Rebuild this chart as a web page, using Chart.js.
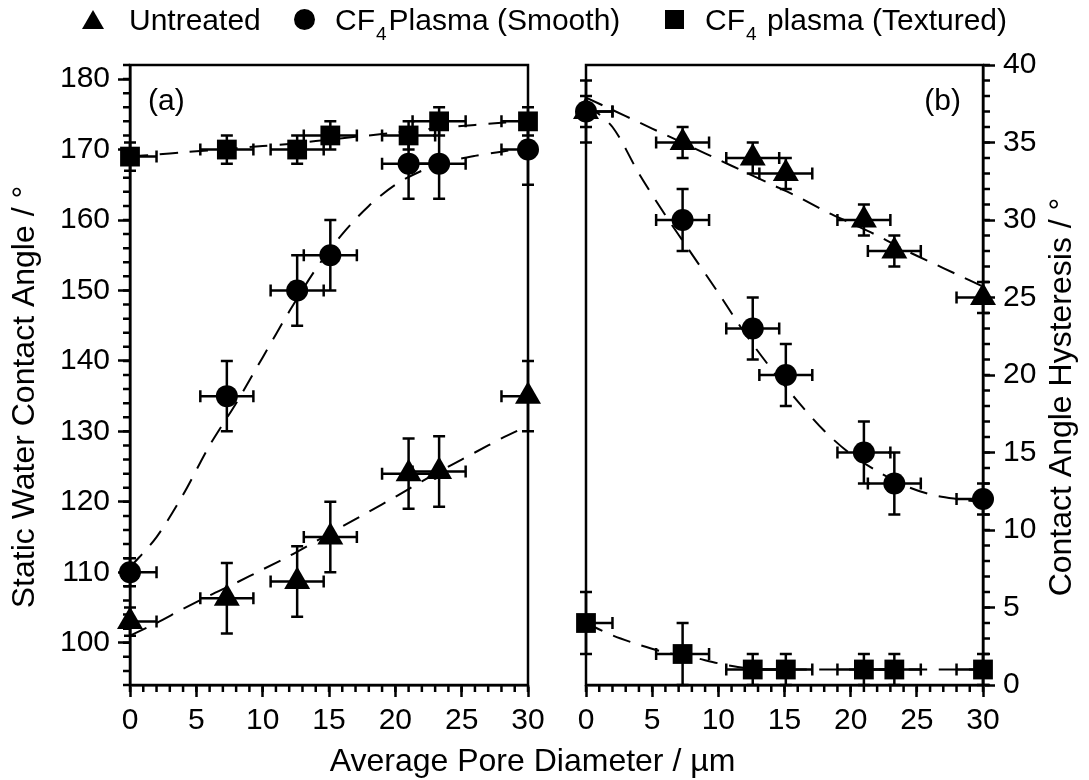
<!DOCTYPE html>
<html>
<head>
<meta charset="utf-8">
<script src="https://cdn.jsdelivr.net/npm/chart.js@4.4.1/dist/chart.umd.min.js"></script>
<style>
  html, body { margin: 0; padding: 0; background: #fff; }
  #wrap { position: relative; width: 1089px; height: 780px; font-family: "Liberation Sans", Arial, sans-serif; color: #000; }
  #wrap canvas { position: absolute; left: 0; top: 0; }
  .lg { position: absolute; top: 5px; font-size: 30px; line-height: 30px; white-space: nowrap; }
  .lg sub { font-size: 19px; line-height: 0; vertical-align: -10px; margin: 0 2px 0 1px; }
  .mk { position: absolute; background: #000; }
  #xtitle { position: absolute; left: 0; width: 1065px; top: 744px; text-align: center; font-size: 32px; line-height: 32px; }
</style>
</head>
<body>
<div id="wrap">
  <canvas id="panelA" width="1089" height="780"></canvas>
  <canvas id="panelB" width="1089" height="780"></canvas>
  <div class="mk" style="left:82px;top:10px;width:0;height:0;background:none;border-left:11px solid transparent;border-right:11px solid transparent;border-bottom:19px solid #000;"></div>
  <div class="lg" style="left:129px;">Untreated</div>
  <div class="mk" style="left:294px;top:9px;width:21px;height:21px;border-radius:50%;"></div>
  <div class="lg" style="left:335px;">CF<sub>4</sub>Plasma (Smooth)</div>
  <div class="mk" style="left:665px;top:10px;width:19px;height:19px;"></div>
  <div class="lg" style="left:705px;">CF<sub>4</sub> plasma (Textured)</div>
  <div id="xtitle">Average Pore Diameter / µm</div>
</div>
<script>
// x positions (average pore diameter, µm) and their error
const poreX = [0, 7.3, 12.6, 15.1, 21.0, 23.3, 30];
const poreXErr = [2, 2, 2, 2, 2, 2, 2];

const xTicks = [0, 5, 10, 15, 20, 25, 30];
const yTicksA = [100, 110, 120, 130, 140, 150, 160, 170, 180];
const yTicksB = [0, 5, 10, 15, 20, 25, 30, 35, 40];

// (a) static water contact angle
const scaUntreated = [103, 106.3, 108.7, 115, 124, 124.3, 135];
const scaUntreatedErr = [2, 5, 5, 5, 5, 5, 5];
const scaSmooth = [110, 135, 150, 155, 168, 168, 170];
const scaSmoothErr = [2, 5, 5, 5, 5, 5, 5];
const scaTextured = [169, 170, 170, 172, 172, 174, 174];
const scaTexturedErr = [2, 2, 2, 2, 2, 2, 2];

// (b) contact angle hysteresis
const cahUntreated = [37, 35, 34, 33, 30, 28, 25];
const cahUntreatedErr = [1, 1, 1, 1, 1, 1, 1];
const cahSmooth = [37, 30, 23, 20, 15, 13, 12];
const cahSmoothErr = [2, 2, 2, 2, 2, 2, 1];
const cahTextured = [4, 2, 1, 1, 1, 1, 1];
const cahTexturedErr = [2, 2, 1, 1, 1, 1, 1];

// dashed guide curves
const fitX = [0, 2, 4, 6, 8, 10, 12, 14, 16, 18, 20, 22, 24, 26, 28, 30];
const fitScaUntreated = [101, 102.8, 104.8, 106.7, 108.5, 110.4, 112.3, 114.4, 116.5, 118.6, 120.7, 122.9, 125, 127, 129, 130.8];
const fitScaSmooth = [110.7, 115, 121, 128, 134, 140.5, 147, 153, 158, 162, 165, 167, 168.3, 169.1, 169.7, 170.3];
const fitScaTextured = [169, 169.3, 169.6, 169.9, 170.2, 170.5, 170.8, 171.2, 171.6, 172, 172.4, 172.8, 173.2, 173.5, 173.8, 174];
const fitCahUntreated = [37.9, 37.1, 36.3, 35.5, 34.7, 33.9, 33.1, 32.3, 31.5, 30.6, 29.8, 29, 28.1, 27.3, 26.5, 25.7];
const fitCahSmooth = [37.5, 36, 33, 30.3, 27.8, 25.3, 22.7, 20.4, 18.3, 16.4, 14.9, 13.8, 12.9, 12.3, 12, 11.8];
const fitCahTextured = [4, 3.2, 2.6, 2.1, 1.8, 1.4, 1.1, 1.0, 1.0, 1.0, 1.0, 1.0, 1.0, 1.0, 1.0, 1.0];

const FONT = '"Liberation Sans", Arial, sans-serif';
const LW = 2.5;

const pts = (ys) => poreX.map((x, i) => ({ x: x, y: ys[i] }));
const curve = (ys) => fitX.map((x, i) => ({ x: x, y: ys[i] }));

function markers(ys, err, style, r) {
  return {
    type: 'scatter', data: pts(ys), errY: err, errX: poreXErr,
    pointStyle: style, pointRadius: r, pointHoverRadius: r,
    backgroundColor: '#000', borderColor: '#000', borderWidth: 0, order: 1
  };
}
function guide(ys) {
  return {
    type: 'line', data: curve(ys), borderColor: '#000', borderWidth: 2,
    borderDash: [18, 12], pointRadius: 0, tension: 0.3, fill: false, order: 2
  };
}

// error bars, box, minor ticks and titles, drawn with the chart's own scales
const extras = {
  id: 'extras',
  afterDatasetsDraw(chart) {
    const { ctx, chartArea: a, scales: { x, y } } = chart;
    ctx.save();
    ctx.strokeStyle = '#000';
    ctx.lineWidth = LW;
    chart.data.datasets.forEach(ds => {
      if (!ds.errY) return;
      ds.data.forEach((p, i) => {
        const px = x.getPixelForValue(p.x);
        const py = y.getPixelForValue(p.y);
        const yt = y.getPixelForValue(p.y + ds.errY[i]);
        const yb = y.getPixelForValue(p.y - ds.errY[i]);
        const xl = x.getPixelForValue(p.x - ds.errX[i]);
        const xr = x.getPixelForValue(p.x + ds.errX[i]);
        ctx.beginPath();
        ctx.moveTo(px, yt); ctx.lineTo(px, yb);
        ctx.moveTo(px - 6, yt); ctx.lineTo(px + 6, yt);
        ctx.moveTo(px - 6, yb); ctx.lineTo(px + 6, yb);
        ctx.moveTo(Math.max(xl, a.left), py); ctx.lineTo(Math.min(xr, a.right), py);
        if (xl >= a.left) { ctx.moveTo(xl, py - 6); ctx.lineTo(xl, py + 6); }
        if (xr <= a.right) { ctx.moveTo(xr, py - 6); ctx.lineTo(xr, py + 6); }
        ctx.stroke();
      });
    });
    ctx.restore();
  },
  afterDraw(chart, args, o) {
    const { ctx, chartArea: a, scales: { x, y } } = chart;
    ctx.save();
    ctx.strokeStyle = '#000';
    ctx.lineWidth = LW;
    ctx.strokeRect(a.left, a.top, a.width, a.height);
    ctx.beginPath();
    for (let v = x.min; v <= x.max; v += 1) {
      const px = x.getPixelForValue(v);
      ctx.moveTo(px, a.bottom); ctx.lineTo(px, a.bottom + 7);
    }
    for (let v = Math.ceil(y.min / o.yMinor) * o.yMinor; v <= y.max; v += o.yMinor) {
      const py = y.getPixelForValue(v);
      if (o.side === 'left') { ctx.moveTo(a.left, py); ctx.lineTo(a.left - 7, py); }
      else { ctx.moveTo(a.right, py); ctx.lineTo(a.right + 7, py); }
    }
    ctx.stroke();
    ctx.fillStyle = '#000';
    ctx.font = '30px ' + FONT;
    ctx.textAlign = o.labelAlign;
    ctx.textBaseline = 'alphabetic';
    ctx.fillText(o.label, o.labelAlign === 'left' ? a.left + 18 : a.right - 22, a.top + 45);
    // y axis title, reading bottom to top
    ctx.translate(o.titleX, (a.top + a.bottom) / 2 + 22);
    ctx.rotate(-Math.PI / 2);
    ctx.textAlign = 'center';
    ctx.textBaseline = 'middle';
    ctx.font = '32px ' + FONT;
    ctx.fillText(o.title, 0, 0);
    ctx.restore();
  }
};

const tickFont = { family: FONT, size: 30 };
const gridOpts = { display: true, drawOnChartArea: false, drawTicks: true, tickLength: 12, tickWidth: LW, tickColor: '#000' };
const borderOpts = { display: true, width: LW, color: '#000' };

function xAxis() {
  return {
    type: 'linear', min: 0, max: 30,
    afterBuildTicks: s => { s.ticks = xTicks.map(v => ({ value: v })); },
    afterFit: s => { s.height = 95; },
    ticks: { font: tickFont, color: '#000', padding: 6, maxRotation: 0 },
    grid: gridOpts, border: borderOpts
  };
}

new Chart(document.getElementById('panelA'), {
  data: {
    datasets: [
      guide(fitScaUntreated), guide(fitScaSmooth), guide(fitScaTextured),
      markers(scaUntreated, scaUntreatedErr, 'triangle', 15),
      markers(scaSmooth, scaSmoothErr, 'circle', 11),
      markers(scaTextured, scaTexturedErr, 'rect', 14)
    ]
  },
  options: {
    responsive: false, animation: false, clip: false,
    layout: { padding: { left: 0, top: 65, right: 561, bottom: 0 } },
    plugins: {
      legend: { display: false }, tooltip: { enabled: false },
      extras: { side: 'left', yMinor: 2, label: '(a)', labelAlign: 'left',
                title: 'Static Water Contact Angle / °', titleX: 25 }
    },
    scales: {
      x: xAxis(),
      y: {
        type: 'linear', position: 'left', min: 94, max: 182,
        afterBuildTicks: s => { s.ticks = yTicksA.map(v => ({ value: v })); },
        afterFit: s => { s.width = 130; },
        ticks: { font: tickFont, color: '#000', padding: 8 },
        grid: gridOpts, border: borderOpts
      }
    }
  },
  plugins: [extras]
});

new Chart(document.getElementById('panelB'), {
  data: {
    datasets: [
      guide(fitCahUntreated), guide(fitCahSmooth), guide(fitCahTextured),
      markers(cahUntreated, cahUntreatedErr, 'triangle', 15),
      markers(cahSmooth, cahSmoothErr, 'circle', 11),
      markers(cahTextured, cahTexturedErr, 'rect', 14)
    ]
  },
  options: {
    responsive: false, animation: false, clip: false,
    layout: { padding: { left: 586, top: 65, right: 0, bottom: 0 } },
    plugins: {
      legend: { display: false }, tooltip: { enabled: false },
      extras: { side: 'right', yMinor: 1, label: '(b)', labelAlign: 'right',
                title: 'Contact Angle Hysteresis / °', titleX: 1062 }
    },
    scales: {
      x: xAxis(),
      y: {
        type: 'linear', position: 'right', min: 0, max: 40,
        afterBuildTicks: s => { s.ticks = yTicksB.map(v => ({ value: v })); },
        afterFit: s => { s.width = 106; },
        ticks: { font: tickFont, color: '#000', padding: 8 },
        grid: gridOpts, border: borderOpts
      }
    }
  },
  plugins: [extras]
});
</script>
</body>
</html>
